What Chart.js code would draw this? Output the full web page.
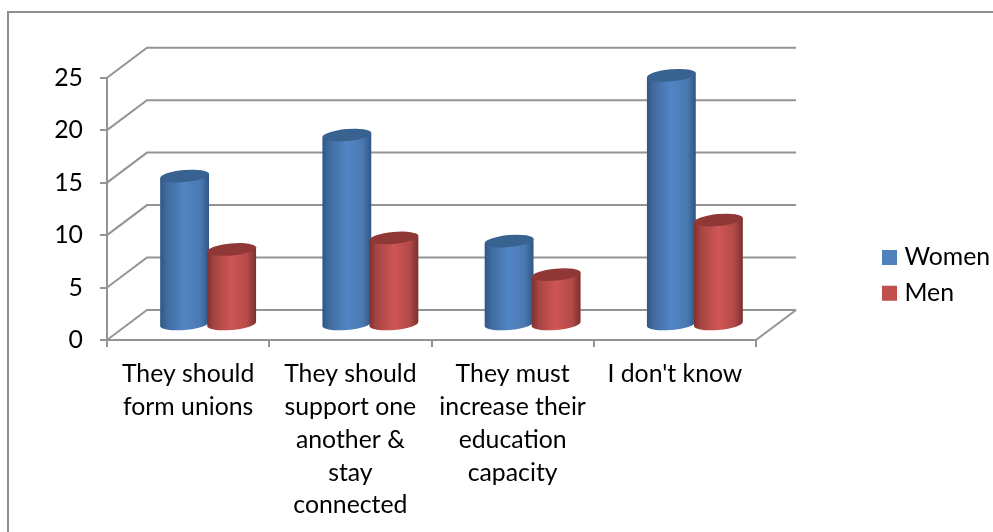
<!DOCTYPE html>
<html>
<head>
<meta charset="utf-8">
<style>
  html, body { margin: 0; background: #fff; }
  #box { position: absolute; left: 7px; top: 11px; width: 986px; height: 521px; border-left: 2px solid #8e8e8e; border-top: 2px solid #8e8e8e; box-sizing: border-box; }
  #chart { position: absolute; left: 0; top: 0; }
</style>
</head>
<body>
<div id="box"></div>
<canvas id="chart" width="993" height="532"></canvas>
<script src="https://cdn.jsdelivr.net/npm/chart.js@4"></script>
<script>
const categories = [
  ["They should", "form unions"],
  ["They should", "support one", "another &", "stay", "connected"],
  ["They must", "increase their", "education", "capacity"],
  ["I don't know"],
];
const women = [14.2, 18.1, 8, 23.8];
const men = [7.2, 8.3, 4.8, 10];

const FONT = "Lato";
const LINE = "#949494";
// how far the back wall sits behind the front axes
const DEPTH_X = 40;
const DEPTH_Y = 30;

// cylinder shading, dark edge -> light middle -> dark edge
const SHADE_STOPS = [0, 0.14, 0.5, 0.82, 1];
const SHADES = {
  "#4f81bd": { stops: ["#2f5685", "#406c9f", "#5185c4", "#4a79b2", "#2f5685"], top: "#38628f" },
  "#c0504d": { stops: ["#7f302e", "#a54543", "#cf5654", "#b44a48", "#7a302e"], top: "#903836" },
};

function drawWalls(chart) {
  const { ctx, scales } = chart;
  const left = scales.x.left;
  const right = scales.x.right;
  const zero = scales.y.getPixelForValue(0);
  ctx.save();
  ctx.strokeStyle = LINE;
  ctx.lineWidth = 2;
  scales.y.ticks.forEach((t) => {
    const y = scales.y.getPixelForValue(t.value);
    ctx.beginPath();
    ctx.moveTo(left, y);
    ctx.lineTo(left + DEPTH_X, y - DEPTH_Y);
    ctx.lineTo(right + DEPTH_X, y - DEPTH_Y);
    ctx.stroke();
  });
  // right edge of the floor
  ctx.beginPath();
  ctx.moveTo(right, zero);
  ctx.lineTo(right + DEPTH_X, zero - DEPTH_Y);
  ctx.stroke();
  ctx.restore();
}

function drawCylinder(ctx, bar, color) {
  const shade = SHADES[color];
  const r = bar.width / 2 + 1;
  const cx = bar.x + DEPTH_X / 2;
  const topY = bar.y - DEPTH_Y / 2;
  const baseY = bar.base - DEPTH_Y / 2;
  const tilt = -0.09;
  const ry = 6;
  const ex = r * Math.cos(tilt);
  const ey = r * Math.sin(tilt);

  const grad = ctx.createLinearGradient(cx - r, 0, cx + r, 0);
  SHADE_STOPS.forEach((p, i) => grad.addColorStop(p, shade.stops[i]));

  ctx.save();
  ctx.beginPath();
  ctx.moveTo(cx + ex, topY + ey);
  ctx.lineTo(cx + ex, baseY + ey);
  ctx.ellipse(cx, baseY, r, ry, tilt, 0, Math.PI);
  ctx.lineTo(cx - ex, topY - ey);
  ctx.closePath();
  ctx.fillStyle = grad;
  ctx.fill();

  ctx.beginPath();
  ctx.ellipse(cx, topY, r, ry, tilt, 0, Math.PI * 2);
  ctx.fillStyle = shade.top;
  ctx.fill();
  ctx.restore();
}

// walls go behind the bars, and the bars are painted women first so men overlap them
const cylinders = {
  id: "cylinders",
  beforeDatasetsDraw(chart) {
    drawWalls(chart);
    chart.data.datasets.forEach((ds, i) => {
      chart.getDatasetMeta(i).data.forEach((bar) => {
        drawCylinder(chart.ctx, bar, ds.backgroundColor);
      });
    });
    return false;
  },
};

const legendSpot = {
  id: "legendSpot",
  afterLayout(chart) {
    const lg = chart.legend;
    const w = lg.width;
    const h = lg.height;
    lg.left = 876;
    lg.right = lg.left + w;
    lg.top = 234;
    lg.bottom = lg.top + h;
    lg.adjustHitBoxes();
  },
};

new Chart(document.getElementById("chart"), {
  type: "bar",
  data: {
    labels: categories,
    datasets: [
      { label: "Women", data: women, backgroundColor: "#4f81bd", categoryPercentage: 0.58, barPercentage: 1 },
      { label: "Men", data: men, backgroundColor: "#c0504d", categoryPercentage: 0.58, barPercentage: 1 },
    ],
  },
  plugins: [cylinders, legendSpot],
  options: {
    responsive: false,
    animation: false,
    layout: { padding: { top: 77.7, right: 237, left: 0, bottom: 0 } },
    plugins: {
      tooltip: { enabled: false },
      legend: {
        position: "chartArea",
        align: "start",
        labels: {
          color: "#000",
          font: { family: FONT, size: 24.8 },
          boxWidth: 5,
          boxHeight: 5,
          padding: 11,
          // stroke widens the swatch to 15px without pushing the text away
          generateLabels(chart) {
            return Chart.defaults.plugins.legend.labels.generateLabels(chart).map((item) => {
              item.lineWidth = 10;
              item.strokeStyle = item.fillStyle;
              return item;
            });
          },
        },
      },
    },
    scales: {
      x: {
        afterFit(axis) { axis.height = 192; },
        grid: { drawOnChartArea: false, color: LINE, lineWidth: 2, tickLength: 7 },
        border: { color: LINE, width: 2 },
        ticks: {
          color: "#000",
          font: { family: FONT, size: 24.8, lineHeight: 1.32 },
          padding: 11,
          maxRotation: 0,
          autoSkip: false,
        },
      },
      y: {
        min: 0,
        max: 25,
        afterFit(axis) { axis.width = 107; },
        grid: { drawOnChartArea: false, color: LINE, lineWidth: 2, tickLength: 7 },
        border: { color: LINE, width: 2 },
        ticks: {
          stepSize: 5,
          color: "#000",
          font: { family: FONT, size: 24.8 },
          padding: 17,
        },
      },
    },
  },
});
</script>
</body>
</html>
